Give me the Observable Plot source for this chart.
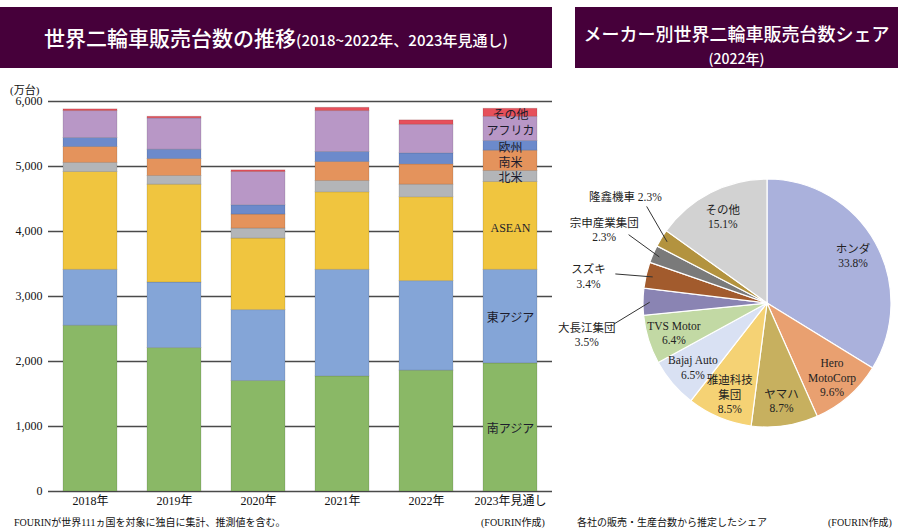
<!DOCTYPE html>
<html><head><meta charset="utf-8">
<script src="https://cdn.jsdelivr.net/npm/d3@7"></script>
<script src="https://cdn.jsdelivr.net/npm/@observablehq/plot@0.6"></script>
<style>
html,body{margin:0;padding:0;background:#fff;}
body{width:898px;height:531px;overflow:hidden;position:relative;font-family:"Liberation Serif","Noto Sans CJK JP",serif;color:#111;}
.banner{position:absolute;background:#46003a;color:#fff;font-family:"Noto Sans CJK JP","Noto Sans",sans-serif;text-align:center;}
.abs{position:absolute;white-space:nowrap;}
#bar,#pie{position:absolute;}
#bar{left:0;top:80px;}
#pie{left:565px;top:150px;}
</style></head><body>
<div class="banner" style="left:0;top:7px;width:552px;height:61px;line-height:61px;">
  <span style="font-size:21px;font-weight:500;">世界二輪車販売台数の推移</span><span style="font-size:15px;font-weight:500;">(2018~2022年、2023年見通し)</span>
</div>
<div class="banner" style="left:575px;top:7px;width:323px;height:61px;">
  <div style="font-size:18px;font-weight:500;line-height:22px;margin-top:15px;">メーカー別世界二輪車販売台数シェア</div>
  <div style="font-size:14px;font-weight:500;line-height:18px;margin-top:5px;">(2022年)</div>
</div>
<div class="abs" style="left:10px;top:81px;font-size:11px;">(万台)</div>
<div id="bar"></div>
<div id="pie"></div>
<div class="abs" style="left:14px;top:514px;font-size:10px;">FOURINが世界111ヵ国を対象に独自に集計、推測値を含む。</div>
<div class="abs" style="left:481px;top:514px;font-size:10px;">(FOURIN作成)</div>
<div class="abs" style="left:577px;top:514px;font-size:10px;">各社の販売・生産台数から推定したシェア</div>
<div class="abs" style="left:828px;top:514px;font-size:10px;">(FOURIN作成)</div>
<script>
// ---- bar chart data (万台) ----
const years = ["2018年","2019年","2020年","2021年","2022年","2023年見通し"];
const series = ["南アジア","東アジア","ASEAN","北米","南米","欧州","アフリカ","その他"];
const southAsia = [2550,2207,1700,1771,1859,1971];
const eastAsia  = [860,1008,1091,1639,1378,1439];
const asean     = [1505,1505,1100,1194,1290,1352];
const northAm   = [140,134,154,173,193,169];
const southAm   = [245,261,215,292,313,312];
const europe    = [138,143,144,154,170,149];
const africa    = [415,482,511,630,439,373];
const others    = [26,25,26,50,68,123];
const seriesColors = ["#8ab866","#84a5d7","#f0c53f","#b3b5b8","#e4935c","#6c8acb","#b897c6","#e6505b"];
const yTicks = [0,1000,2000,3000,4000,5000,6000];

// ---- pie chart data (%) ----
const makers = ["ホンダ","Hero\nMotoCorp","ヤマハ","雅迪科技\n集団","Bajaj Auto","TVS Motor","大長江集団","スズキ","宗申産業集団","隆鑫機車","その他"];
const shares = [33.8,9.6,8.7,8.5,6.5,6.4,3.5,3.4,2.3,2.3,15.1];
const pieColors = ["#aab1dc","#e9a070","#c7b05f","#f5d274","#d9e1f3","#c2d9a4","#8a84b3","#a25b2d","#7a7a7a","#b3933f","#d2d2d2"];

const table = [];
const cols = [southAsia,eastAsia,asean,northAm,southAm,europe,africa,others];
series.forEach((s,i)=>cols[i].forEach((v,j)=>table.push({year:years[j],series:s,value:v})));

const font = '"Liberation Serif","Noto Sans CJK JP",serif';

const bar = Plot.plot({
  width:560, height:430,
  marginTop:21, marginBottom:19, marginLeft:48, marginRight:8,
  style:{fontFamily:font,fontSize:"12px",color:"#111",background:"transparent"},
  x:{domain:years,paddingInner:0.36,paddingOuter:0.18,label:null},
  y:{domain:[0,6000],label:null},
  color:{domain:series,range:seriesColors},
  marks:[
    Plot.ruleY(yTicks,{stroke:"#4a4a4a",strokeWidth:1.3}),
    Plot.barY(table,{x:"year",y:"value",fill:"series",z:"series",order:series,stroke:"#000",strokeOpacity:0.12,strokeWidth:1}),
    Plot.text(table.filter(d=>d.year===years[5]),Plot.stackY({x:"year",y:"value",z:"series",order:series,text:"series",fill:"#1c1c2c",fontSize:12,dy:2})),
    Plot.axisX({tickSize:0,tickPadding:5,fontSize:12,label:null}),
    Plot.axisY({ticks:yTicks,tickSize:0,tickPadding:6,fontSize:12,label:null,tickFormat:d3.format(",")})
  ]
});
document.getElementById("bar").appendChild(bar);

// ---- pie ----
const arcs = d3.pie().sort(null).value(d=>d)(shares);
const pieData = arcs.map((a,i)=>({name:makers[i],share:shares[i],color:pieColors[i],mid:(a.startAngle+a.endAngle)/2,i}));
const outer = pieData.filter(d=>d.share<4);
const inner = pieData.filter(d=>d.share>=4);
const meanA = d3.mean(outer,d=>d.mid);
outer.forEach(d=>{d.la = meanA+(d.mid-meanA)*1.5;});
const label = d=>d.name+(d.name==="隆鑫機車"?" ":"\n")+d.share.toFixed(1)+"%";

const W=333,H=300,mL=78,mR=7,mT=29,mB=23;
function slices(index,scales,values,dim){
  let sx = scales && typeof scales.x==="function" ? scales.x : (v=>mL+(v+1)/2*(W-mL-mR));
  let sy = scales && typeof scales.y==="function" ? scales.y : (v=>mT+(1-v)/2*(H-mT-mB));
  const cx=sx(0), cy=sy(0), r=sx(1)-cx;
  const g=d3.create("svg:g").attr("transform",`translate(${cx},${cy})`);
  const arc=d3.arc().innerRadius(0).outerRadius(r);
  g.selectAll("path").data(arcs).join("path").attr("d",arc)
    .attr("fill",(d,i)=>pieColors[i]).attr("stroke","#fff").attr("stroke-width",1.2);
  return g.node();
}
const pie = Plot.plot({
  width:W, height:H, marginLeft:mL, marginRight:mR, marginTop:mT, marginBottom:mB,
  style:{fontFamily:font,fontSize:"12px",color:"#111",background:"transparent",overflow:"visible"},
  x:{domain:[-1,1],axis:null}, y:{domain:[-1,1],axis:null},
  marks:[
    slices,
    Plot.link(outer,{x1:d=>0.95*Math.sin(d.mid),y1:d=>0.95*Math.cos(d.mid),
      x2:d=>1.25*Math.sin(d.la),y2:d=>1.25*Math.cos(d.la),stroke:"#333",strokeWidth:1}),
    Plot.text(inner,{x:d=>0.79*Math.sin(d.mid),y:d=>0.79*Math.cos(d.mid),text:label,fill:"#222",fontSize:11.5,lineHeight:1.25}),
    Plot.text(outer,{x:d=>1.47*Math.sin(d.la),y:d=>1.47*Math.cos(d.la),dy:7,text:label,fill:"#222",fontSize:11.5,lineHeight:1.25})
  ]
});
document.getElementById("pie").appendChild(pie);
</script>
</body></html>
